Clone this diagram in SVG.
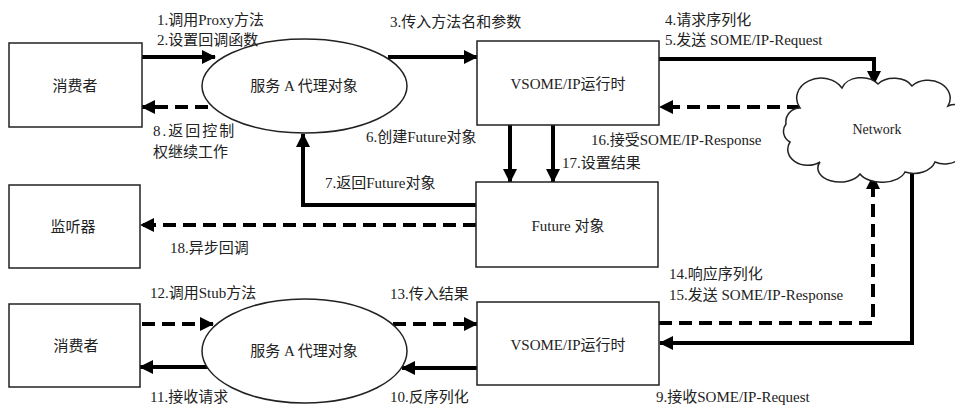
<svg xmlns="http://www.w3.org/2000/svg" width="955" height="407" viewBox="0 0 955 407">
<style>
text{font-family:"Liberation Serif","Noto Sans CJK SC",serif;font-size:15px;fill:#222}
.c{text-anchor:middle}
.n{fill:#fff;stroke:#222;stroke-width:1.5}
.s{fill:none;stroke:#000;stroke-width:4}
.d{fill:none;stroke:#000;stroke-width:4;stroke-dasharray:13 7}
</style>
<defs>
<marker id="ah" markerUnits="userSpaceOnUse" markerWidth="14" markerHeight="14" refX="13" refY="7" orient="auto">
<path d="M0,0 L14,7 L0,14 z" fill="#000"/>
</marker>
</defs>
<rect width="955" height="407" fill="#fff"/>
<g id="edges">
<path class="s" d="M142,57 L215,57" marker-end="url(#ah)"/>
<path class="d" d="M208,107 L142,107" marker-end="url(#ah)"/>
<path class="s" d="M388,57 L477,57" marker-end="url(#ah)"/>
<path class="s" d="M659,59 L874,59 L874,84" marker-end="url(#ah)"/>
<path class="d" d="M800,107 L660,107" marker-end="url(#ah)"/>
<path class="s" d="M510,125 L510,182" marker-end="url(#ah)"/>
<path class="s" d="M553,125 L553,182" marker-end="url(#ah)"/>
<path class="s" d="M476,205 L303,205 L303,134" marker-end="url(#ah)"/>
<path class="d" d="M476,225 L141,225" marker-end="url(#ah)"/>
<path class="d" d="M142,324 L213,324" marker-end="url(#ah)"/>
<path class="s" d="M208,367 L140,367" marker-end="url(#ah)"/>
<path class="d" d="M393,324 L477,324" marker-end="url(#ah)"/>
<path class="s" d="M477,368 L402,368" marker-end="url(#ah)"/>
<path class="d" d="M659,323 L873,323 L873,176" marker-end="url(#ah)"/>
<path class="s" d="M912,160 L912,343 L660,343" marker-end="url(#ah)"/>
</g>
<g id="consumer1"><rect class="n" x="9" y="43" width="133" height="84"/><text class="c" x="75" y="91">消费者</text></g>
<g id="proxy1"><ellipse class="n" cx="304.5" cy="86" rx="102.5" ry="47"/><text class="c" x="304" y="91">服务 A 代理对象</text></g>
<g id="vsome1"><rect class="n" x="477" y="41" width="182" height="84"/><text class="c" x="568" y="89">VSOME/IP运行时</text></g>
<g id="network"><path class="n" d="M800,108 A22,18 0 0 1 842,88 A20,14 0 0 1 878,84 A20,14 0 0 1 912,86 A22,18 0 0 1 948,106 A18,18 0 0 1 962,140 A20,16 0 0 1 935,162 A22,16 0 0 1 905,172 A24,14 0 0 1 860,174 A22,14 0 0 1 820,162 A20,16 0 0 1 790,142 A12,12 0 0 1 786,124 A14,14 0 0 1 800,108 Z"/><text class="c" x="877" y="134" style="font-size:14px">Network</text></g>
<g id="future"><rect class="n" x="476" y="182" width="182" height="85"/><text class="c" x="568" y="231">Future 对象</text></g>
<g id="listener"><rect class="n" x="9" y="185" width="131" height="83"/><text class="c" x="73" y="232">监听器</text></g>
<g id="consumer2"><rect class="n" x="9" y="304" width="131" height="83"/><text class="c" x="76" y="351">消费者</text></g>
<g id="proxy2"><ellipse class="n" cx="304.5" cy="351" rx="102.5" ry="52"/><text class="c" x="304" y="356">服务 A 代理对象</text></g>
<g id="vsome2"><rect class="n" x="477" y="302" width="182" height="83"/><text class="c" x="568" y="350">VSOME/IP运行时</text></g>
<g id="labels">
<text x="157" y="25">1.调用Proxy方法</text>
<text x="157" y="45">2.设置回调函数</text>
<text x="153" y="136" letter-spacing="2">8.返回控制</text>
<text x="153" y="157">权继续工作</text>
<text x="390" y="27">3.传入方法名和参数</text>
<text x="665" y="25">4.请求序列化</text>
<text x="665" y="45">5.发送 SOME/IP-Request</text>
<text x="591" y="145">16.接受SOME/IP-Response</text>
<text x="366" y="142">6.创建Future对象</text>
<text x="562" y="168">17.设置结果</text>
<text x="325" y="188">7.返回Future对象</text>
<text x="170" y="253">18.异步回调</text>
<text x="150" y="298">12.调用Stub方法</text>
<text x="150" y="402">11.接收请求</text>
<text x="390" y="299">13.传入结果</text>
<text x="390" y="402">10.反序列化</text>
<text x="669" y="279">14.响应序列化</text>
<text x="669" y="300">15.发送 SOME/IP-Response</text>
<text x="656" y="402">9.接收SOME/IP-Request</text>
</g>
</svg>
